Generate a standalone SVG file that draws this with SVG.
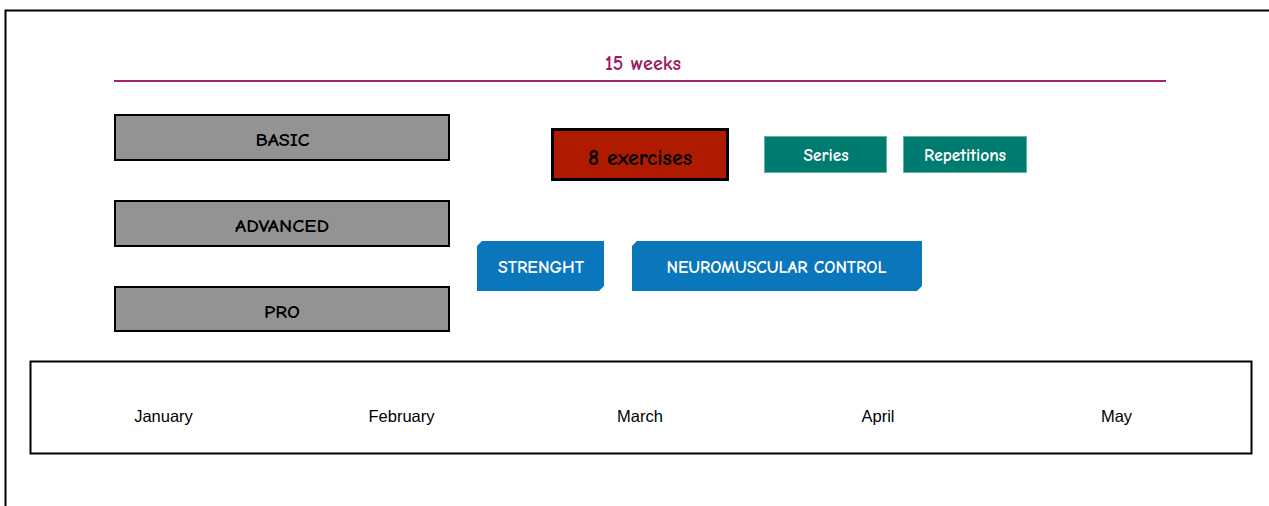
<svg xmlns="http://www.w3.org/2000/svg" width="1269" height="506" viewBox="0 0 1269 506">
<style>
.lbl{font-family:"Comic Sans MS","Comic Neue","DejaVu Sans",sans-serif;text-anchor:middle}
.gray{fill:#939393;stroke:#000;stroke-width:2}
.teal{fill:#007b70;stroke:#5fb3a8;stroke-width:1}
.blue{fill:#0a77bd}
.w{fill:#fff;font-weight:bold;font-size:17px}
.k{fill:#000;font-weight:bold;font-size:19px}
.month{font-family:"Liberation Sans",Arial,sans-serif;font-size:16.5px;fill:#000;text-anchor:middle}
</style>
<rect x="0" y="0" width="1269" height="506" fill="#fff"/>
<path d="M5.5 520 V10.5 H1280" fill="none" stroke="#000" stroke-width="2"/>
<g id="connectors">
<line x1="114" y1="81" x2="1166" y2="81" stroke="#a3226e" stroke-width="2"/>
</g>
<g id="title"><text class="lbl" x="643" y="70" font-size="20" font-weight="bold" fill="#9b1b63" textLength="76" lengthAdjust="spacingAndGlyphs">15 weeks</text></g>
<g id="basic"><rect class="gray" x="115" y="115" width="334" height="45"/><text class="lbl k" x="282.5" y="146" textLength="54" lengthAdjust="spacingAndGlyphs">BASIC</text></g>
<g id="advanced"><rect class="gray" x="115" y="201" width="334" height="45"/><text class="lbl k" x="282" y="232" textLength="94" lengthAdjust="spacingAndGlyphs">ADVANCED</text></g>
<g id="pro"><rect class="gray" x="115" y="287" width="334" height="44"/><text class="lbl k" x="282" y="318" textLength="36" lengthAdjust="spacingAndGlyphs">PRO</text></g>
<g id="exercises"><rect x="552.5" y="129.5" width="175" height="50" fill="#b01b00" stroke="#000" stroke-width="3"/><text class="lbl" x="640" y="165" font-size="22" font-weight="bold" fill="#000" textLength="104" lengthAdjust="spacingAndGlyphs">8 exercises</text></g>
<g id="series"><rect class="teal" x="764.5" y="136.5" width="122" height="36"/><text class="lbl w" x="826" y="161" textLength="45" lengthAdjust="spacingAndGlyphs">Series</text></g>
<g id="repetitions"><rect class="teal" x="903.5" y="136.5" width="123" height="36"/><text class="lbl w" x="965" y="161" textLength="82" lengthAdjust="spacingAndGlyphs">Repetitions</text></g>
<g id="strenght"><path class="blue" d="M482 241 H604 V286 L599 291 H477 V246 Z"/><text class="lbl w" x="541" y="273" textLength="86" lengthAdjust="spacingAndGlyphs">STRENGHT</text></g>
<g id="neuromuscular"><path class="blue" d="M637 241 H922 V286 L917 291 H632 V246 Z"/><text class="lbl w" x="776.5" y="273" textLength="220" lengthAdjust="spacingAndGlyphs">NEUROMUSCULAR CONTROL</text></g>
<g id="months">
<rect x="30.5" y="361.5" width="1221" height="92" fill="#fff" stroke="#000" stroke-width="2"/>
<text class="month" x="163.5" y="421.5">January</text>
<text class="month" x="401.5" y="421.5">February</text>
<text class="month" x="640" y="421.5">March</text>
<text class="month" x="878" y="421.5">April</text>
<text class="month" x="1116.5" y="421.5">May</text>
</g>
</svg>
